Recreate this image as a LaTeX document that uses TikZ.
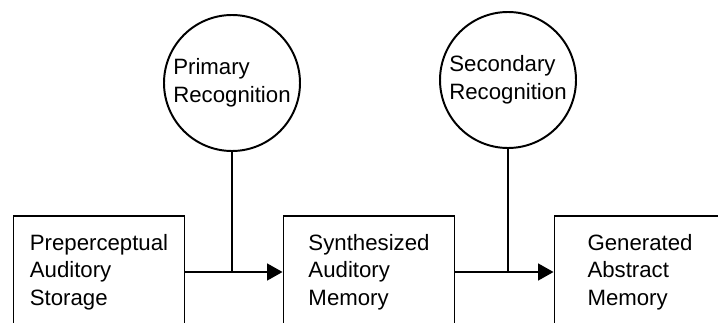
\documentclass[tikz,border=0pt]{standalone}
\usepackage{fontspec}
\setmainfont{Liberation Sans}
\usetikzlibrary{arrows.meta}

\begin{document}
\begin{tikzpicture}

  % Styles des boites et des fleches
  \tikzstyle{boite} = [draw, line width=1.4pt, minimum width=4.275cm, minimum height=2.8cm, inner sep=0pt, align=left, font=\fontsize{15.8}{19.4}\selectfont]
  \tikzstyle{cercle} = [draw, circle, line width=1.4pt, minimum size=3.4cm, inner sep=0pt, align=left, font=\fontsize{15.8}{19.8}\selectfont]
  \tikzstyle{fleche} = [-{Triangle[length=11pt, width=12pt]}, line width=1.4pt]
  \tikzstyle{trait} = [line width=1.4pt]

  \useasboundingbox (0,0) rectangle (17.95,8.05);

  % Liste des boxes
  \node[boite] (storage) at (2.475,1.25) {Preperceptual\\Auditory\\Storage};
  \node[boite] (synth) at (9.225,1.25) {Synthesized\\Auditory\\Memory};
  \node[boite] (abstract) at (16.0,1.25) {Generated\\Abstract\\Memory};

  % Reconnaissance
  \node[cercle] (primary) at (5.8,5.975) {Primary\\Recognition};
  \node[cercle] (secondary) at (12.7,6.05) {Secondary\\Recognition};

  % Storage -> Synth -> Abstract
  \draw[fleche] (storage) -- (synth);
  \draw[fleche] (synth) -- (abstract);

  % Recognition -> fleches
  \draw[trait] (primary) -- (primary |- storage.east);
  \draw[trait] (secondary) -- (secondary |- synth.east);

\end{tikzpicture}
\end{document}
